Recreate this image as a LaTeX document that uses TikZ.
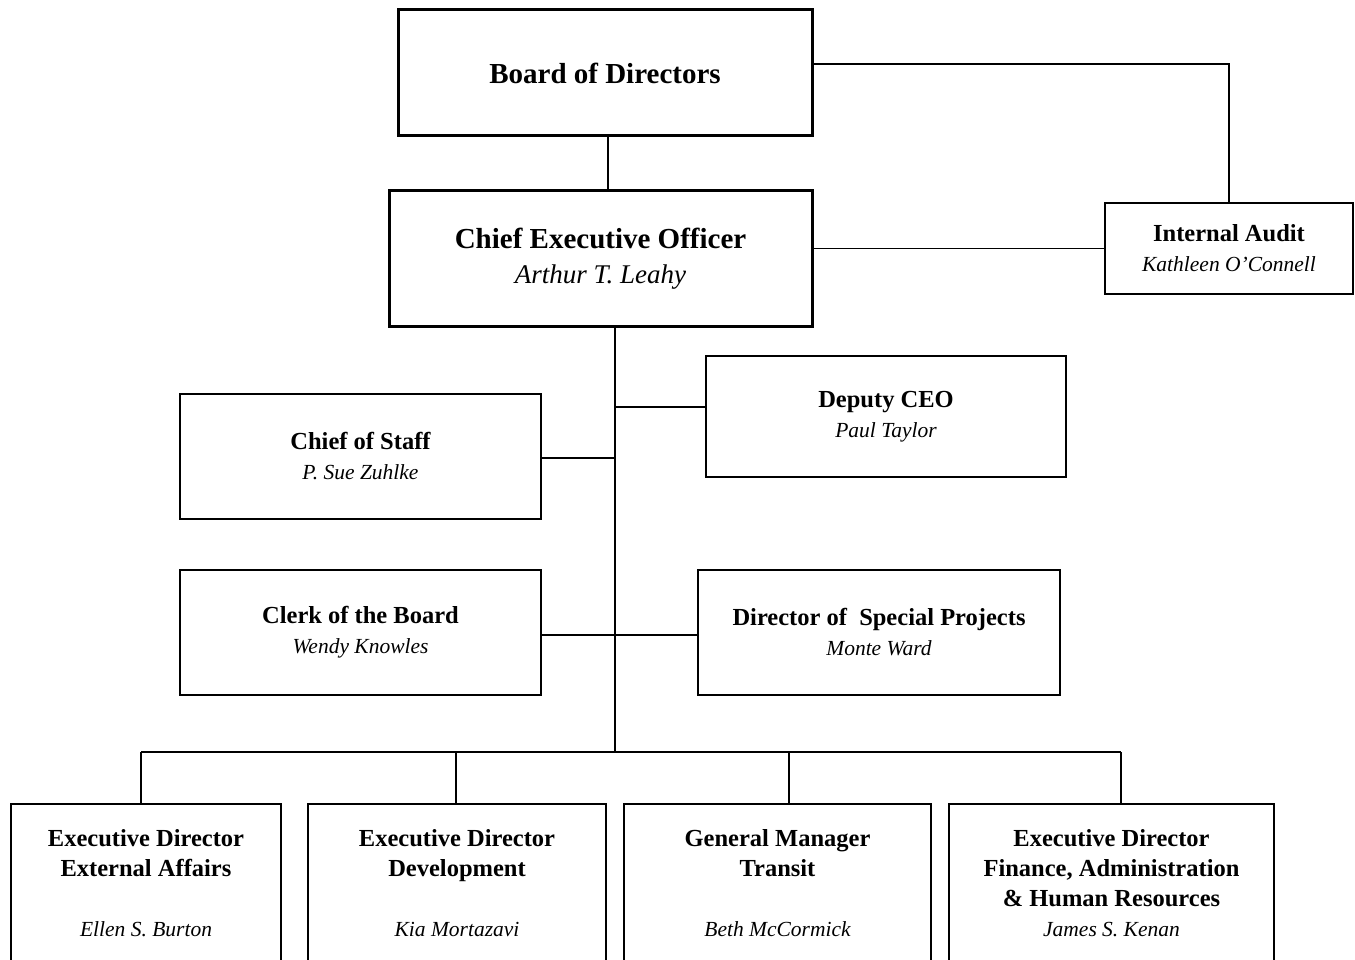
\documentclass[tikz,border=0pt]{standalone}
\usepackage{fontspec}
\setmainfont{Liberation Serif}
\begin{document}
\begin{tikzpicture}[x=1pt,y=-1pt,
  thinline/.style={line width=1.5pt,black},
  unit/.style={draw=black,line width=1.3pt,fill=white,inner sep=0pt,align=center,
    font=\fontsize{24.5}{30}\selectfont\bfseries},
  topunit/.style={unit,line width=3pt},
  who/.style={}]
\newcommand{\nm}[1]{{\fontsize{21.5}{30}\selectfont\mdseries\itshape #1}}
\useasboundingbox (0,0) rectangle (1355,960);
\fill[white] (0,0) rectangle (1355,960);
\clip (0,0) rectangle (1355,960);

% top of the chart
\node[topunit,minimum width=414,minimum height=126,font=\fontsize{29}{35}\selectfont\bfseries]
  (board) at (605,73) {Board of Directors};
\node[topunit,minimum width=423,minimum height=135,font=\fontsize{29}{35}\selectfont\bfseries]
  (ceo) at (600.5,258.5) {Chief Executive Officer\\{\fontsize{27}{35}\selectfont\mdseries\itshape Arthur T. Leahy}};
\node[unit,minimum width=248,minimum height=91] (audit) at (1229,248.5)
  {Internal Audit\\\nm{Kathleen O’Connell}};

% staff offices
\node[unit,minimum width=360,minimum height=121] (deputy) at (886,416.5)
  {Deputy CEO\\\nm{Paul Taylor}};
\node[unit,minimum width=361,minimum height=125] (staff) at (360.5,456.5)
  {Chief of Staff\\\nm{P. Sue Zuhlke}};
\node[unit,minimum width=361,minimum height=125] (clerk) at (360.5,632.5)
  {Clerk of the Board\\\nm{Wendy Knowles}};
\node[unit,minimum width=362,minimum height=125] (special) at (879,632.5)
  {Director of~ Special Projects\\\nm{Monte Ward}};

% executive directors
\node[unit,minimum width=270,minimum height=158] (ext) at (146,883)
  {Executive Director\\External Affairs\\[30pt]\nm{Ellen S. Burton}};
\node[unit,minimum width=298,minimum height=158] (dev) at (457,883)
  {Executive Director\\Development\\[30pt]\nm{Kia Mortazavi}};
\node[unit,minimum width=307,minimum height=158] (gm) at (777.5,883)
  {General Manager\\Transit\\[30pt]\nm{Beth McCormick}};
\node[unit,minimum width=325,minimum height=158] (fin) at (1111.5,883)
  {Executive Director\\Finance, Administration\\\& Human Resources\\\nm{James S. Kenan}};

% reporting lines
\coordinate (bus) at (615,752);
\coordinate (d1) at (141,752);
\coordinate (d2) at (456,752);
\coordinate (d3) at (789,752);
\coordinate (d4) at (1121,752);

\draw[thinline] ([xshift=3]board.south) -- ([xshift=3]board.south |- ceo.north);
\draw[thinline] ([yshift=9]board.east) -| (audit.north);
\draw[thinline] (audit.west) -- (audit.west -| ceo.east);
\draw[thinline] (ceo.south -| bus) -- (bus);
\draw[thinline] ([yshift=9.5]deputy.west) -- ([yshift=9.5]deputy.west -| bus);
\draw[thinline] ([yshift=-1.5]staff.east) -- ([yshift=-1.5]staff.east -| bus);
\draw[thinline] ([yshift=-2.5]clerk.east) -- ([yshift=-2.5]special.west);
\draw[thinline] (d1) -- (d4);
\draw[thinline] (d1) -- (d1 |- ext.north);
\draw[thinline] (d2) -- (d2 |- dev.north);
\draw[thinline] (d3) -- (d3 |- gm.north);
\draw[thinline] (d4) -- (d4 |- fin.north);
\end{tikzpicture}
\end{document}
